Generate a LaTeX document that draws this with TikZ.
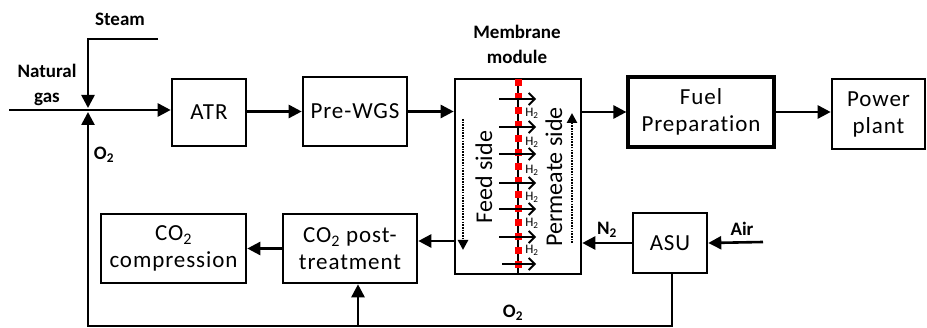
\documentclass[tikz,border=0pt]{standalone}
\usepackage{fontspec}
\setmainfont{Carlito}[Ligatures=NoCommon]
\usetikzlibrary{arrows.meta}
\begin{document}
\begin{tikzpicture}[x=1pt,y=-1pt,
  box/.style={draw,line width=2.6pt,inner sep=0pt,align=center,font=\fontsize{23}{27}\selectfont\addfontfeature{LetterSpace=4}},
  flow/.style={line width=2.6pt,-{Triangle[length=13pt,width=13pt]}},
  lbl/.style={font=\fontsize{19}{25}\selectfont\bfseries,align=center,inner sep=0pt},
  htwo/.style={font=\fontsize{13}{13}\selectfont,inner sep=0pt},
  perm/.style={line width=1.8pt,-{Straight Barb[length=6pt,width=12pt,line width=1.8pt]}},
  dotarrow/.style={line width=2.6pt,dash pattern=on 1.6pt off 1.1pt,-{Triangle[length=10pt,width=10pt,sep=0pt]}},
  sidetext/.style={rotate=90,font=\fontsize{24}{24}\selectfont,inner sep=0pt}]
\useasboundingbox (0,0) rectangle (927,328);
% boxes
\node[box,minimum width=74pt,minimum height=67pt] (atr) at (209,112.5) {ATR};
\node[box,minimum width=104pt,minimum height=69pt] (wgs) at (355,111.5) {Pre-WGS};
\node[draw,line width=2.6pt,minimum width=126pt,minimum height=195pt,inner sep=0pt] (mem) at (518,176.5) {};
\node[box,line width=3.2pt,minimum width=146pt,minimum height=70pt] (fuel) at (701,112) {Fuel\\Preparation};
\node[box,minimum width=93pt,minimum height=70pt] (power) at (878.5,114) {Power\\plant};
\node[box,minimum width=145pt,minimum height=69pt] (comp) at (173.5,248.5) {CO\textsubscript{2}\\compression};
\node[box,minimum width=134pt,minimum height=69pt] (post) at (350,248.5) {CO\textsubscript{2} post-\\treatment};
\node[box,minimum width=74pt,minimum height=60pt] (asu) at (670,243) {ASU};
% membrane line
\coordinate (mtop) at (518,79);
\coordinate (mbot) at (518,274);
\draw[line width=2.4pt] (mtop) -- (mbot);
\draw[red,line width=7pt,dash pattern=on 7pt off 7pt] (mtop) -- (mbot);
% permeation arrows
\foreach \yy in {99,127,154,183,209,237} {
  \coordinate (pa) at (499,\yy); \coordinate (pb) at (536,\yy);
  \draw[perm] (pa) -- (pb);
}
\coordinate (pa) at (502,264); \coordinate (pb) at (536,264);
\draw[perm,line width=1.2pt] (pa) -- (pb);
\foreach \yy [count=\i] in {113,142,170,197,223,250} {
  \node[htwo] (h\i) at (532,\yy) {H\textsubscript{2}};
}
% side texts
\node[sidetext] (feedt) at (484,177) {Feed side};
\node[sidetext] (permt) at (554,177) {Permeate side};
\coordinate (fa) at (463,119); \coordinate (fb) at (463,250);
\draw[dotarrow] (fa) -- (fb);
\coordinate (ra) at (572,243); \coordinate (rb) at (572,113);
\draw[dotarrow] (ra) -- (rb);
% main feed line
\coordinate (ng) at (9,110);
\draw[flow] (ng) -- (atr.west |- ng);
\coordinate (st1) at (158,39);
\coordinate (st2) at (88,39);
\coordinate (stend) at (88,108);
\draw[flow] (st1) -- (st2) -- (stend);
\draw[flow] (atr.east |- wgs.west) -- (wgs.west);
\draw[flow] (wgs.east) -- (wgs.east -| mem.west);
\draw[flow] (mem.east |- fuel.west) -- (fuel.west);
\draw[flow] (fuel.east) -- (fuel.east -| power.west);
% bottom
\coordinate (mo) at (455,241);
\draw[flow] (mo) -- (post.east |- mo);
\draw[flow] (post.west) -- (comp.east);
\draw[flow] (asu.west) -- (asu.west -| mem.east);
\coordinate (air) at (763,242);
\draw[flow] (air) -- (asu.east);
\coordinate (b1) at (672,326);
\coordinate (b2) at (88,326);
\coordinate (o2end) at (88,112);
\draw[flow] (asu.south -| b1) -- (b1) -- (b2) -- (o2end);
\coordinate (b3) at (358,326);
\draw[flow] (b3) -- (post.south -| b3);
% labels
\node[lbl] (steam) at (120,19) {Steam};
\node[lbl] (natgas) at (47,85) {Natural\\gas};
\node[lbl] (o2a) at (104,155) {O\textsubscript{2}};
\node[lbl] (memlbl) at (517,44) {Membrane\\module};
\node[lbl] (n2) at (607,230) {N\textsubscript{2}};
\node[lbl] (airl) at (742,229) {Air};
\node[lbl] (o2b) at (513,313) {O\textsubscript{2}};
\end{tikzpicture}
\end{document}
